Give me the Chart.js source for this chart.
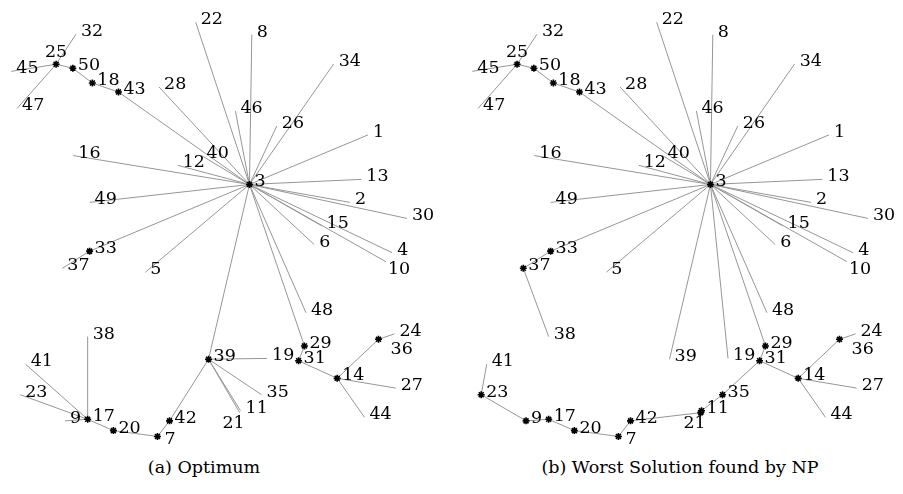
<!DOCTYPE html>
<html>
<head>
<meta charset="utf-8">
<script src="https://cdn.jsdelivr.net/npm/chart.js@4.4.1/dist/chart.umd.min.js"></script>
<style>
  body { margin: 0; background: #fff; }
  #wrap { position: relative; width: 903px; height: 494px; }
  .fig { position: absolute; top: 0; }
  .cap { position: absolute; top: 457px; font-size: 17.5px; font-family: "DejaVu Serif", serif; text-align: center; white-space: nowrap; color: #000; }
</style>
</head>
<body>
<div id="wrap">
  <div class="fig" style="left:0"><canvas id="optimum" width="442" height="452"></canvas></div>
  <div class="fig" style="left:461px"><canvas id="worst" width="442" height="452"></canvas></div>
  <div class="cap" style="left:104px;width:200px" id="capA"></div>
  <div class="cap" style="left:530px;width:300px" id="capB"></div>
</div>
<script>
// node ids 1..50 and their positions (same layout in both panels)
let nodeIds = [1,2,3,4,5,6,7,8,9,10,11,12,13,14,15,16,17,18,19,20,21,22,23,24,25,
  26,27,28,29,30,31,32,33,34,35,36,37,38,39,40,41,42,43,44,45,46,47,48,49,50]
let nodeX = [91.7,87.1,61.3,97.9,34.6,77.9,37.7,61.9,14.0,96.3,59.0,42.9,90.0,83.8,79.8,16.1,19.8,21.0,65.8,26.4,58.8,47.5,2.5,98.5,11.7,
  68.3,98.8,38.1,75.4,101.7,73.9,16.8,20.3,82.9,64.4,94.4,13.3,19.8,50.8,49.0,3.9,40.8,27.7,90.8,0.2,57.7,1.7,75.8,20.3,16.0]
let nodeY = [78.1,60.8,65.4,47.9,42.9,50.0,0.8,103.8,4.8,45.6,7.4,70.3,66.7,15.7,54.8,72.8,5.2,91.4,20.8,2.3,6.9,107.0,11.5,27.1,96.2,
  80.4,13.2,90.4,24.0,56.7,20.2,103.9,48.3,96.3,11.5,25.7,43.9,26.4,20.6,72.8,19.3,4.8,89.1,5.7,94.4,84.2,84.9,32.5,60.8,95.2]

// tree edges
let edgesOptimum = [
  [3,22],[3,8],[3,34],[3,46],[3,26],[3,1],[3,13],[3,2],[3,30],[3,15],[3,4],[3,10],
  [3,6],[3,48],[3,29],[3,39],[3,5],[3,33],[3,49],[3,16],[3,12],[3,40],[3,28],[3,43],
  [29,31],[31,14],[14,36],[36,24],[14,27],[14,44],
  [39,19],[39,35],[39,11],[39,21],[39,42],
  [42,7],[7,20],[20,17],[17,9],[17,38],[17,41],[17,23],
  [33,37],
  [43,18],[18,50],[50,25],[25,45],[25,47],[25,32]
]
let edgesWorst = [
  [3,22],[3,8],[3,34],[3,46],[3,26],[3,1],[3,13],[3,2],[3,30],[3,15],[3,4],[3,10],
  [3,6],[3,48],[3,29],[3,19],[3,39],[3,5],[3,33],[3,49],[3,16],[3,12],[3,40],[3,28],[3,43],
  [29,31],[31,14],[14,36],[36,24],[14,27],[14,44],
  [31,35],[35,11],[11,21],[21,42],[42,7],[7,20],[20,17],[17,9],[9,23],[23,41],
  [33,37],[37,38],
  [43,18],[18,50],[50,25],[25,45],[25,47],[25,32]
]
let captions = ['(a) Optimum', '(b) Worst Solution found by NP']

document.getElementById('capA').textContent = captions[0]
document.getElementById('capB').textContent = captions[1]

// where a label sits relative to its node (px), default is right of it
let labelPlace = {
  25: {dx: 0, dy: -7, align: 'center'},
  10: {dx: 2, dy: 12},
  36: {dx: 12, dy: 15},
  21: {dx: 5, dy: 15, align: 'right'},
  7: {dx: 7, dy: 8}
}

let nodeLabels = {
  id: 'nodeLabels',
  afterDatasetsDraw(chart) {
    let ctx = chart.ctx
    let xs = chart.scales.x, ys = chart.scales.y
    ctx.save()
    ctx.font = '17.5px "DejaVu Serif", serif'
    ctx.fillStyle = '#000'
    ctx.textBaseline = 'alphabetic'
    nodeIds.forEach((id, i) => {
      let p = labelPlace[id] || {dx: 5, dy: 2}
      ctx.textAlign = p.align || 'left'
      ctx.fillText(String(id), xs.getPixelForValue(nodeX[i]) + p.dx, ys.getPixelForValue(nodeY[i]) + p.dy)
    })
    ctx.restore()
  }
}

function pt(id) {
  let i = nodeIds.indexOf(id)
  return {x: nodeX[i], y: nodeY[i]}
}

function drawTree(canvasId, edges) {
  let degree = nodeIds.map(id => edges.filter(e => e[0] === id || e[1] === id).length)
  let datasets = [{
    data: nodeIds.map(pt),
    pointStyle: 'star',
    pointRadius: degree.map(d => d > 1 ? 3.5 : 0),
    borderColor: '#000',
    backgroundColor: '#000',
    borderWidth: 1.6,
    order: 0
  }]
  edges.forEach(e => {
    datasets.push({
      data: [pt(e[0]), pt(e[1])],
      showLine: true,
      borderColor: 'rgb(150,150,150)',
      borderWidth: 1,
      pointRadius: 0,
      order: 1
    })
  })
  return new Chart(document.getElementById(canvasId), {
    type: 'scatter',
    data: {datasets: datasets},
    options: {
      responsive: false,
      animation: false,
      layout: {padding: 0},
      scales: {
        x: {type: 'linear', min: -1.25, max: 109.25, display: false},
        y: {type: 'linear', min: -1.75, max: 111.25, display: false}
      },
      plugins: {legend: {display: false}, tooltip: {enabled: false}}
    },
    plugins: [nodeLabels]
  })
}

let optimumChart = drawTree('optimum', edgesOptimum)
let worstChart = drawTree('worst', edgesWorst)
</script>
</body>
</html>
